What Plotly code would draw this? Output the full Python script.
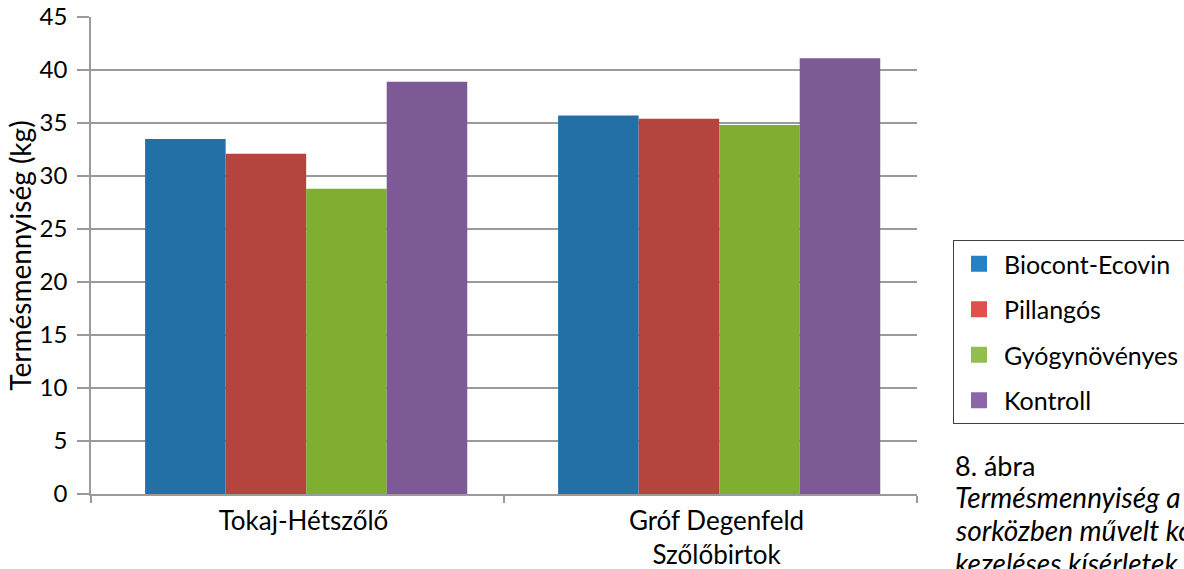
import plotly.graph_objects as go

categories = ["Tokaj-Hétszőlő", "Gróf Degenfeld<br>Szőlőbirtok"]
series_names = ["Biocont-Ecovin", "Pillangós", "Gyógynövényes", "Kontroll"]
biocont = [33.5, 35.7]
pillangos = [32.1, 35.4]
gyogy = [28.8, 34.8]
kontroll = [38.9, 41.1]
series_values = [biocont, pillangos, gyogy, kontroll]
bar_colors = ["#2370A7", "#B5433E", "#80AE30", "#7D5A95"]
legend_colors = ["#2580C4", "#E0504D", "#92BE50", "#8B66A8"]
y_ticks = [0, 5, 10, 15, 20, 25, 30, 35, 40, 45]
caption_title = "8. ábra"
caption_lines = [
    "Termésmennyiség a tokaji ültetvényekben,",
    "sorközben művelt kontroll és takarónövényes",
    "kezeléses kísérletek esetében",
]

FONT = "Lato"
BAR_W = 0.195
GROUP_START = -0.369
W, H = 1184, 569
L, R, T, B = 91, 267, 17, 75
PW, PH = W - L - R, H - T - B


def px_to_paper(xp, yp):
    return (xp - L) / PW, (H - B - yp) / PH


fig = go.Figure()
for i, (name, vals, col) in enumerate(zip(series_names, series_values, bar_colors)):
    fig.add_trace(go.Bar(
        x=categories, y=vals, name=name,
        marker=dict(color=col, line=dict(width=0)),
        width=BAR_W, offset=GROUP_START + i * BAR_W,
        showlegend=False,
    ))
for i, (name, col) in enumerate(zip(series_names, legend_colors)):
    fig.add_trace(go.Scatter(
        x=[None], y=[None], mode="markers", name=name,
        marker=dict(symbol="square", size=23, color=col),
        legendgroup=f"g{i}", showlegend=True,
    ))

fig.update_layout(
    width=W, height=H,
    margin=dict(l=L, r=R, t=T, b=B),
    paper_bgcolor="white", plot_bgcolor="white",
    barmode="overlay",
    font=dict(family=FONT, size=24, color="#000000"),
    showlegend=True,
    legend=dict(
        xref="container", yref="container",
        x=953 / W, y=1 - 240 / H, xanchor="left", yanchor="top",
        bordercolor="#404040", borderwidth=1,
        font=dict(family=FONT, size=25, color="#000000"),
        tracegroupgap=10, traceorder="grouped",
        itemwidth=40, itemsizing="trace",
    ),
    xaxis=dict(
        type="category", range=[-0.5, 1.5], automargin=False,
        showline=True, linecolor="#9A9A9A", linewidth=1.5,
        ticks="outside", tickson="boundaries", ticklen=7, tickcolor="#9A9A9A", tickwidth=1.5,
        showgrid=False, ticklabelshift=6, ticklabelstandoff=3,
        tickfont=dict(family=FONT, size=26, color="#000000"),
    ),
    yaxis=dict(
        range=[0, 45], tickvals=y_ticks, automargin=False,
        showline=True, linecolor="#9A9A9A", linewidth=1.5,
        ticks="outside", ticklen=12, tickcolor="#9A9A9A", tickwidth=1.5,
        ticklabelstandoff=5,
        showgrid=True, gridcolor="#9A9A9A", gridwidth=1.5,
        zeroline=False,
        tickfont=dict(family=FONT, size=24, color="#000000"),
        title=dict(text="Termésmennyiség (kg)", font=dict(family=FONT, size=28, color="#000000"), standoff=0),
    ),
)

cx, cy = px_to_paper(953, 465)
fig.add_annotation(
    x=cx, y=cy, xref="paper", yref="paper",
    xanchor="left", yanchor="middle",
    text=caption_title, showarrow=False, align="left",
    font=dict(family=FONT, size=27, color="#000000"),
)
for k, line in enumerate(caption_lines):
    lx, ly = px_to_paper(953, 497 + 33 * k)
    fig.add_annotation(
        x=lx, y=ly, xref="paper", yref="paper",
        xanchor="left", yanchor="middle",
        text=f"<i>{line}</i>", showarrow=False, align="left",
        font=dict(family=FONT, size=28, color="#000000"),
    )

fig.write_html("out.html", config={"displayModeBar": False},
               post_script="document.body.style.margin='0';")
